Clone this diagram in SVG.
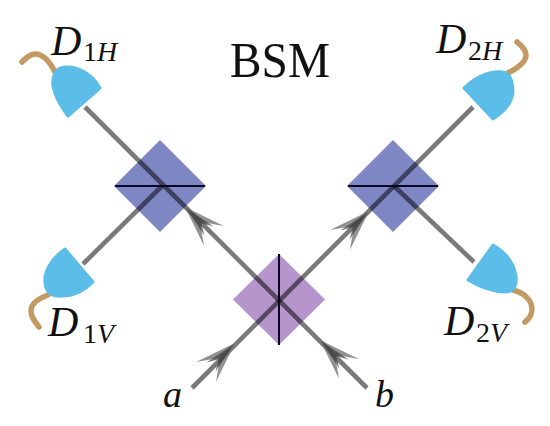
<svg xmlns="http://www.w3.org/2000/svg" width="550" height="426" viewBox="0 0 550 426">
<style>
.serif{font-family:"Liberation Serif","Times New Roman",serif;fill:#111}
.it{font-style:italic}
.main{font-size:42px}
.sub{font-size:28px}
.det{fill:#5bbde8;stroke:#5bbde8;stroke-width:3;stroke-linejoin:round}
.cable{fill:none;stroke:#c49a64;stroke-width:5.5;stroke-linecap:round}
.beam{fill:none;stroke:#000;stroke-opacity:.52;stroke-width:4.6}
.split{fill:none;stroke:#060620;stroke-width:2}
</style>
<defs>
<g id="head">
<path d="M0,0L-41,-14L-21,0L-41,14Z" fill="#777" fill-opacity=".8"/>
<path d="M-2,0L-34,-6.500L-23,0L-34,6.500Z" fill="#333" fill-opacity=".65"/>
</g>
</defs>
<g id="bs-left"><path d="M160,140L206,186L160,232L114,186Z" fill="#7f86c4"/></g>
<g id="bs-right"><path d="M393,140L439,186L393,232L347,186Z" fill="#7f86c4"/></g>
<g id="bs-center"><path d="M279,254L325,299.500L279,345L233,299.500Z" fill="#b595cb"/></g>
<g id="connectors">
<path class="beam" d="M192,388L473,107"/>
<path class="beam" d="M367,388L85,107"/>
<path class="beam" d="M162,186L83,264"/>
<path class="beam" d="M394,186L474,262"/>
<use href="#head" transform="translate(235,343) rotate(-45)"/>
<use href="#head" transform="translate(369,211) rotate(-45)"/>
<use href="#head" transform="translate(320,340) rotate(-135)"/>
<use href="#head" transform="translate(185,207) rotate(-135)"/>
</g>
<path class="split" d="M115,186H205M348,186H438M279,254V345"/>
<g id="D1H">
<path class="cable" d="M55,72C49,60 42,54 35,54C30,54 26,58 22,62"/>
<path class="det" d="M68,116L100,88C92,74 78,66 65,67C55,68 52,76 53,86C55,97 61,107 68,116Z"/>
<text class="serif it main" x="51" y="55">D</text><text class="serif sub" x="83" y="61">1<tspan class="it">H</tspan></text>
</g>
<g id="D2H">
<path class="cable" d="M508,73C520,67 526,61 526,55C526,50 522,46 517,42"/>
<path class="det" d="M493,119L464,88C476,77 490,71 502,72C511,73 513,82 513,92C512,103 504,112 493,119Z"/>
<text class="serif it main" x="436" y="53">D</text><text class="serif sub" x="468" y="60">2<tspan class="it">H</tspan></text>
</g>
<g id="D1V">
<path class="cable" d="M48,295C37,299 31,304 31,311C31,317 35,322 39,327"/>
<path class="det" d="M65,249L93,282C83,292 70,297 58,296C47,295 44,287 45,277C47,266 55,256 65,249Z"/>
<text class="serif it main" x="48" y="336">D</text><text class="serif sub" x="83" y="343">1<tspan class="it">V</tspan></text>
</g>
<g id="D2V">
<path class="cable" d="M513,290C525,293 532,301 532,309C532,315 529,319 525,322"/>
<path class="det" d="M493,245L468,280C480,287 493,292 505,292C515,292 517,285 516,276C514,263 505,252 493,245Z"/>
<text class="serif it main" x="444" y="335">D</text><text class="serif sub" x="476" y="342">2<tspan class="it">V</tspan></text>
</g>
<text class="serif" x="230" y="77" font-size="50" textLength="100" lengthAdjust="spacingAndGlyphs">BSM</text>
<text class="serif it" x="163" y="407" font-size="38">a</text>
<text class="serif it" x="375" y="407" font-size="38">b</text>
</svg>
